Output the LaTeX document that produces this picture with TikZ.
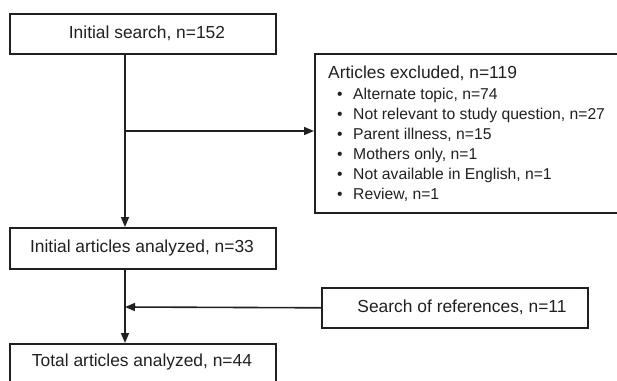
\documentclass[tikz,border=0pt]{standalone}
\usepackage{fontspec}
\setmainfont{Liberation Sans}
\usetikzlibrary{arrows.meta}
\definecolor{ink}{HTML}{231F20}
\tikzset{
  box/.style={draw=ink, line width=1.6pt, inner sep=0pt, anchor=north west},
  big/.style={font=\fontsize{17.4}{20}\selectfont, text=ink, inner sep=0pt},
  small/.style={font=\fontsize{15.7}{20}\selectfont, text=ink, inner sep=0pt, align=left},
  conn/.style={draw=ink, line width=1.6pt},
  arr/.style={conn, -{Triangle[length=10pt,width=8pt]}}
}
\begin{document}
\begin{tikzpicture}[x=1pt,y=-1pt]
\useasboundingbox (0,0) rectangle (617,380);
\clip (0,0) rectangle (617,380);
% boxes
\node[box, minimum width=266pt, minimum height=40pt] (b1) at (9,13) {};
\node[box, minimum width=310pt, minimum height=159pt] (excl) at (314,53) {};
\node[box, minimum width=266pt, minimum height=41pt] (b2) at (9,227) {};
\node[box, minimum width=266pt, minimum height=40pt] (srch) at (321,287) {};
\node[box, minimum width=266pt, minimum height=50pt] (b3) at (9,343) {};
% texts
\node[big] (t1) at (147,33) {Initial search, n=152};
\node[big] (t2) at (142,247.5) {Initial articles analyzed, n=33};
\node[big] (t3) at (462,307) {Search of references, n=11};
\node[big] (t4) at (142,362) {Total articles analyzed, n=44};
\node[big, anchor=west] (et) at (328,73) {Articles excluded, n=119};
\node[small, anchor=north west] (el) at (337,88) {%
\makebox[16pt][l]{\textbullet}Alternate topic, n=74\\
\makebox[16pt][l]{\textbullet}Not relevant to study question, n=27\\
\makebox[16pt][l]{\textbullet}Parent illness, n=15\\
\makebox[16pt][l]{\textbullet}Mothers only, n=1\\
\makebox[16pt][l]{\textbullet}Not available in English, n=1\\
\makebox[16pt][l]{\textbullet}Review, n=1};
% connectors
\coordinate (j1) at (125,131);
\coordinate (j2) at (125,307);
\draw[conn] (b1.south -| j1) -- (j1);
\draw[arr] (j1) -- (j1 -| excl.west);
\draw[arr] (j1) -- (b2.north -| j1);
\draw[conn] (b2.south -| j2) -- (j2);
\draw[arr] (j2) -- (b3.north -| j2);
\draw[arr] (srch.west) -- (j2);
\end{tikzpicture}
\end{document}
